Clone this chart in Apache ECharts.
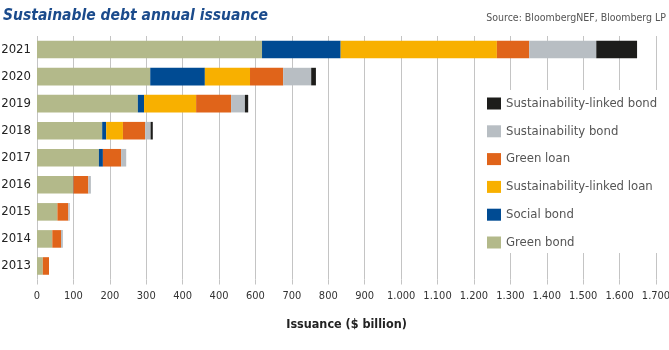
<!DOCTYPE html>
<html>
<head>
<meta charset="utf-8">
<script src="https://cdn.jsdelivr.net/npm/echarts@6/dist/echarts.min.js"></script>
<style>
  html, body { margin: 0; padding: 0; background: #fff; }
  #main { width: 669px; height: 350px; }
</style>
</head>
<body>
<div id="main"></div>
<script>
// data ($ billion)
const years = ["2021", "2020", "2019", "2018", "2017", "2016", "2015", "2014", "2013"];
const greenBond = [618, 311, 277, 179, 170, 99, 56, 42, 16];
const socialBond = [216, 150, 17, 11, 11, 1, 0, 0, 0];
const sustLinkedLoan = [429, 124, 143, 46, 0, 0, 0, 0, 0];
const greenLoan = [89, 91, 96, 61, 50, 41, 30, 24, 17];
const sustBond = [184, 77, 38, 15, 14, 7, 4, 5, 0];
const sustLinkedBond = [112, 13, 9, 6, 0, 0, 0, 0, 0];
// tick labels as printed (the original repeats "400")
const tickLabels = ["0", "100", "200", "300", "400", "400", "600", "700", "800", "900",
  "1.000", "1.100", "1.200", "1.300", "1.400", "1.500", "1.600", "1.700"];

const font = "'DejaVu Sans Condensed', 'Liberation Sans Narrow', sans-serif";

const chart = echarts.init(document.getElementById("main"));

function bar(name, data, color) {
  return {
    name: name,
    type: "bar",
    stack: "total",
    data: data,
    barCategoryGap: "35%",
    itemStyle: { color: color },
    emphasis: { disabled: true }
  };
}

chart.setOption({
  animation: false,
  textStyle: { fontFamily: font },
  title: [
    {
      text: "Sustainable debt annual issuance",
      left: 3,
      top: 8,
      padding: 0,
      textStyle: { fontSize: 15.5, fontWeight: "bold", fontStyle: "italic", color: "#1b4b8c", fontFamily: font }
    },
    {
      text: "Source: BloombergNEF, Bloomberg LP",
      right: 3,
      top: 13,
      padding: 0,
      textStyle: { fontSize: 10.5, fontWeight: "normal", color: "#555", fontFamily: font }
    }
  ],
  legend: {
    orient: "vertical",
    left: 477,
    top: 90,
    width: 192,
    backgroundColor: "#fff",
    padding: [7, 12, 4, 10],
    itemWidth: 14,
    itemHeight: 12,
    itemGap: 14.8,
    icon: "rect",
    textStyle: { fontSize: 13, color: "#555", fontFamily: font },
    data: ["Sustainability-linked bond", "Sustainability bond", "Green loan",
      "Sustainability-linked loan", "Social bond", "Green bond"]
  },
  grid: { left: 37, right: 13, top: 36, bottom: 70.5, outerBoundsMode: "none" },
  xAxis: {
    type: "value",
    min: 0,
    max: 1700,
    interval: 100,
    name: "Issuance ($ billion)",
    nameLocation: "middle",
    nameGap: 39,
    nameTextStyle: { fontSize: 12.5, fontWeight: "bold", color: "#222", fontFamily: font },
    axisLine: { show: false },
    axisTick: { show: true, length: 5, lineStyle: { color: "#c4c4c4" } },
    splitLine: { lineStyle: { color: "#c4c4c4", width: 1 } },
    axisLabel: {
      fontSize: 11,
      color: "#333",
      margin: 11,
      fontFamily: font,
      formatter: function (v) { return tickLabels[Math.round(v / 100)]; }
    }
  },
  yAxis: {
    type: "category",
    inverse: true,
    data: years,
    axisLine: { show: false },
    axisTick: { show: false },
    axisLabel: { fontSize: 13, color: "#222", margin: 6, fontFamily: font }
  },
  series: [
    bar("Green bond", greenBond, "#b3b98a"),
    bar("Social bond", socialBond, "#004b93"),
    bar("Sustainability-linked loan", sustLinkedLoan, "#f8b000"),
    bar("Green loan", greenLoan, "#e0641a"),
    bar("Sustainability bond", sustBond, "#b8bec3"),
    bar("Sustainability-linked bond", sustLinkedBond, "#1d1d1b")
  ]
});
</script>
</body>
</html>
